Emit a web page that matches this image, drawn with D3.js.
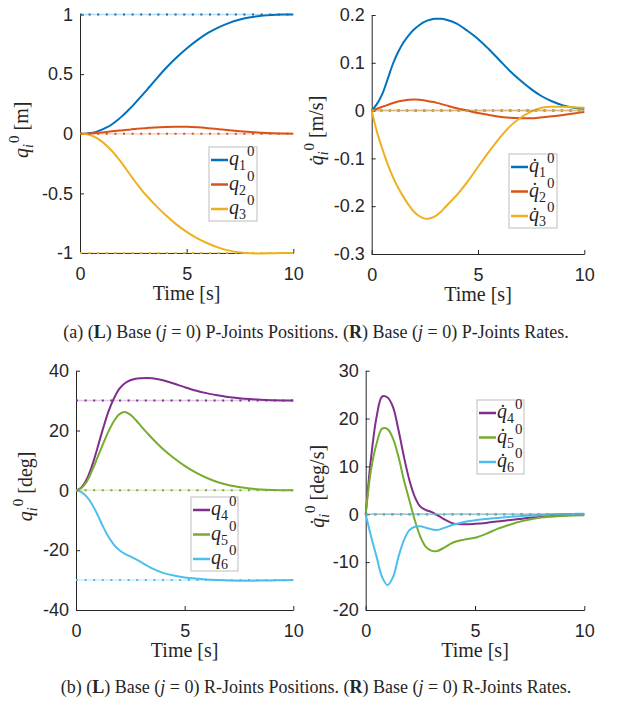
<!DOCTYPE html>
<html>
<head>
<meta charset="utf-8">
<script src="https://cdn.jsdelivr.net/npm/d3@7"></script>
<style>
  body { margin: 0; background: #fff; }
  svg text { fill: #262626; }
</style>
</head>
<body>
<div id="chart"></div>
<script>
// sample times [s]
var time = [0, 0.25, 0.5, 0.75, 1, 1.25, 1.5, 1.75, 2, 2.25, 2.5, 2.75, 3, 3.25, 3.5, 4, 4.5, 5, 5.5, 6, 6.5, 7, 7.5, 8, 8.5, 9, 9.5, 10];

// (a) L : P-joint positions [m]
var q1 = [0, 0.001, 0.006, 0.016, 0.032, 0.053, 0.08, 0.114, 0.152, 0.195, 0.24, 0.29, 0.34, 0.392, 0.444, 0.545, 0.635, 0.715, 0.785, 0.845, 0.892, 0.93, 0.958, 0.977, 0.989, 0.996, 0.999, 1.0];
var q2 = [0, 0.001, 0.003, 0.006, 0.01, 0.015, 0.02, 0.025, 0.03, 0.034, 0.039, 0.043, 0.047, 0.05, 0.053, 0.057, 0.059, 0.058, 0.054, 0.047, 0.038, 0.029, 0.021, 0.014, 0.008, 0.004, 0.002, 0.001];
var q3 = [0, -0.003, -0.012, -0.032, -0.062, -0.1, -0.145, -0.198, -0.255, -0.318, -0.38, -0.44, -0.495, -0.545, -0.592, -0.68, -0.758, -0.823, -0.877, -0.92, -0.955, -0.98, -0.995, -1.003, -1.004, -1.002, -1.0, -1.0];

// (a) R : P-joint rates [m/s]
var dq1 = [0, 0.014, 0.035, 0.066, 0.098, 0.123, 0.143, 0.158, 0.17, 0.179, 0.186, 0.19, 0.192, 0.192, 0.19, 0.182, 0.167, 0.15, 0.129, 0.106, 0.083, 0.063, 0.045, 0.03, 0.019, 0.011, 0.006, 0.004];
var dq2 = [0, 0.004, 0.008, 0.012, 0.016, 0.019, 0.021, 0.0225, 0.023, 0.0225, 0.021, 0.019, 0.017, 0.014, 0.011, 0.005, 0.0, -0.005, -0.009, -0.013, -0.015, -0.016, -0.016, -0.014, -0.012, -0.009, -0.006, -0.003];
var dq3 = [0, -0.045, -0.08, -0.112, -0.139, -0.162, -0.181, -0.198, -0.212, -0.221, -0.226, -0.225, -0.221, -0.212, -0.2, -0.177, -0.149, -0.118, -0.087, -0.058, -0.033, -0.015, -0.002, 0.006, 0.008, 0.008, 0.007, 0.006];

// (b) L : R-joint positions [deg]
var q4 = [0, 1.0, 3.8, 8.5, 14.5, 20.8, 26.5, 30.8, 34, 35.8, 36.8, 37.3, 37.5, 37.6, 37.5, 36.8, 35.7, 34.5, 33.4, 32.5, 31.8, 31.2, 30.8, 30.5, 30.3, 30.15, 30.05, 30.0];
var q5 = [0, 0.8, 3.0, 6.8, 11.2, 15.6, 19.8, 23.2, 25.5, 26.2, 25.3, 23.5, 21.4, 19.4, 17.4, 13.8, 10.8, 8.2, 6.0, 4.2, 2.8, 1.8, 1.1, 0.6, 0.3, 0.12, 0.04, 0];
var q6 = [0, -0.6, -2.2, -4.8, -8.3, -12.2, -15.6, -18.2, -20.0, -21.2, -22.1, -23.0, -24.0, -25.1, -26.1, -27.6, -28.5, -29.1, -29.5, -29.8, -30.0, -30.15, -30.2, -30.2, -30.15, -30.1, -30.05, -30.0];

// (b) R : R-joint rates [deg/s]
var dq4 = [0, 12, 20.4, 24.6, 24.4, 22.4, 17.6, 12, 7.1, 3.6, 1.6, 0.9, 0.5, -0.1, -0.8, -1.9, -2.1, -2.0, -1.8, -1.5, -1.25, -1.0, -0.75, -0.55, -0.35, -0.2, -0.08, 0.0];
var dq5 = [0, 9.5, 14.8, 17.9, 17.8, 15.8, 12, 7.1, 2.9, -1.3, -4.7, -6.8, -7.6, -7.7, -7.2, -5.9, -5.3, -4.9, -4.1, -3.1, -2.3, -1.6, -1.1, -0.7, -0.5, -0.35, -0.25, -0.2];
var dq6 = [0, -4.7, -8.9, -13.1, -14.8, -13.1, -8.9, -5.4, -3.3, -2.6, -2.5, -2.8, -3.1, -3.3, -3.0, -2.2, -1.6, -1.25, -1.0, -0.77, -0.55, -0.4, -0.25, -0.15, -0.05, 0.05, 0.08, 0.1];

// desired (reference) values, drawn dotted
var refP = [1, 0, -1];
var refPdot = [0, 0, 0];
var refR = [30, 0, -30];
var refRdot = [0, 0, 0];

// ticks
var xTicks = [0, 5, 10];
var yTicksP = [-1, -0.5, 0, 0.5, 1];
var yTicksPdot = [-0.3, -0.2, -0.1, 0, 0.1, 0.2];
var yTicksR = [-40, -20, 0, 20, 40];
var yTicksRdot = [-20, -10, 0, 10, 20, 30];

var colorsP = ["#0072BD", "#D95319", "#EDB120"];
var colorsR = ["#7E2F8E", "#77AC30", "#4DBEEE"];

var width = 618, height = 701;
var serif = "'Liberation Serif', 'Times New Roman', serif";
var sans = "'Liberation Sans', Arial, sans-serif";

var svg = d3.select("#chart").append("svg")
    .attr("width", width)
    .attr("height", height)
    .style("background", "#fff");

// writes {q_idx}^0 ; index digits upright, letters italic
function symbol(text, idx, dot) {
    text.append("tspan").attr("font-style", "italic").text(dot ? "q\u0307" : "q");
    text.append("tspan").attr("font-style", isNaN(+idx) ? "italic" : "normal")
        .attr("font-size", 14).attr("dy", 5).text(idx);
    text.append("tspan").attr("font-size", 15).attr("dy", -14).attr("dx", 1).text("0");
}

function panel(p) {
    var x = d3.scaleLinear().domain([0, 10]).range([p.left, p.right]);
    var y = d3.scaleLinear().domain(p.yDomain).range([p.bottom, p.top]);
    var g = svg.append("g");

    // axes, ticks pointing inward like MATLAB
    g.append("g")
        .attr("transform", `translate(0,${p.bottom})`)
        .call(d3.axisBottom(x).tickValues(xTicks).tickSizeInner(-4).tickSizeOuter(0).tickPadding(14))
        .call(a => a.selectAll("text").style("font-family", sans).style("font-size", "18px").attr("fill", "#262626"))
        .call(a => a.selectAll("line, path").attr("stroke", "#262626"));
    g.append("g")
        .attr("transform", `translate(${p.left},0)`)
        .call(d3.axisLeft(y).tickValues(p.yTicks).tickSizeInner(-4).tickSizeOuter(0).tickPadding(7)
            .tickFormat(d => String(d)))
        .call(a => a.selectAll("text").style("font-family", sans).style("font-size", "18px").attr("fill", "#262626"))
        .call(a => a.selectAll("line, path").attr("stroke", "#262626"));

    var line = d3.line()
        .x((d, i) => x(time[i]))
        .y(d => y(d))
        .curve(d3.curveCatmullRom.alpha(0.5));

    p.series.forEach(function (s, k) {
        g.append("path")
            .datum(s)
            .attr("fill", "none")
            .attr("stroke", p.colors[k])
            .attr("stroke-width", 2)
            .attr("d", line);
    });

    // dotted reference lines
    p.refs.forEach(function (r, k) {
        g.append("line")
            .attr("x1", x(0)).attr("x2", x(10))
            .attr("y1", y(r)).attr("y2", y(r))
            .attr("stroke", p.colors[k]).attr("stroke-width", 1.5).attr("stroke-opacity", 0.25);
        g.append("line")
            .attr("x1", x(0)).attr("x2", x(10))
            .attr("y1", y(r)).attr("y2", y(r))
            .attr("stroke", p.colors[k]).attr("stroke-width", 2)
            .attr("stroke-dasharray", "2,6.6");
    });

    // axis titles
    g.append("text")
        .attr("x", (p.left + p.right) / 2)
        .attr("y", p.bottom + 47)
        .attr("text-anchor", "middle")
        .style("font-family", serif).style("font-size", "20px")
        .text("Time [s]");

    var yl = g.append("text")
        .attr("transform", `translate(${p.ylabelX},${(p.top + p.bottom) / 2 - 4}) rotate(-90)`)
        .attr("text-anchor", "middle")
        .style("font-family", serif).style("font-size", "20px");
    symbol(yl, "i", p.dot);
    yl.append("tspan").attr("dy", 9).text("\u00a0[" + p.unit + "]");

    // legend
    var lg = g.append("g").attr("transform", `translate(${p.legend[0]},${p.legend[1]})`);
    lg.append("rect")
        .attr("width", p.legend[2]).attr("height", 74)
        .attr("fill", "#fff").attr("stroke", "#bdbdbd").attr("stroke-width", 1);
    p.names.forEach(function (n, k) {
        var ry = 13 + k * 24.5;
        lg.append("line")
            .attr("x1", 2).attr("x2", 19).attr("y1", ry).attr("y2", ry)
            .attr("stroke", p.colors[k]).attr("stroke-width", 2.5);
        var t = lg.append("text")
            .attr("x", 20).attr("y", ry + 5)
            .style("font-family", serif).style("font-size", "20px");
        symbol(t, n, p.dot);
    });
}

panel({ left: 80, right: 293.3, top: 14.5, bottom: 253, yDomain: [-1, 1], yTicks: yTicksP,
    series: [q1, q2, q3], refs: refP, colors: colorsP, names: ["1", "2", "3"],
    dot: false, unit: "m", ylabelX: 28, legend: [209, 147, 48] });
panel({ left: 371.7, right: 584.3, top: 15, bottom: 254, yDomain: [-0.3, 0.2], yTicks: yTicksPdot,
    series: [dq1, dq2, dq3], refs: refPdot, colors: colorsP, names: ["1", "2", "3"],
    dot: true, unit: "m/s", ylabelX: 323, legend: [509, 154, 48] });
panel({ left: 76, right: 293.3, top: 370.7, bottom: 610, yDomain: [-40, 40], yTicks: yTicksR,
    series: [q4, q5, q6], refs: refR, colors: colorsR, names: ["4", "5", "6"],
    dot: false, unit: "deg", ylabelX: 32, legend: [191, 497, 47] });
panel({ left: 365.7, right: 584.3, top: 370.7, bottom: 610, yDomain: [-20, 30], yTicks: yTicksRdot,
    series: [dq4, dq5, dq6], refs: refRdot, colors: colorsR, names: ["4", "5", "6"],
    dot: true, unit: "deg/s", ylabelX: 324, legend: [477, 400, 47] });

// captions
function caption(y, letter, kind) {
    var t = svg.append("text")
        .attr("x", 316).attr("y", y)
        .attr("text-anchor", "middle")
        .style("font-family", serif).style("font-size", "18px");
    t.append("tspan").text("(" + letter + ") (");
    t.append("tspan").attr("font-weight", "bold").text("L");
    t.append("tspan").text(") Base (");
    t.append("tspan").attr("font-style", "italic").text("j");
    t.append("tspan").text(" = 0) " + kind + "-Joints Positions. (");
    t.append("tspan").attr("font-weight", "bold").text("R");
    t.append("tspan").text(") Base (");
    t.append("tspan").attr("font-style", "italic").text("j");
    t.append("tspan").text(" = 0) " + kind + "-Joints Rates.");
}
caption(338, "a", "P");
caption(693, "b", "R");
</script>
</body>
</html>
